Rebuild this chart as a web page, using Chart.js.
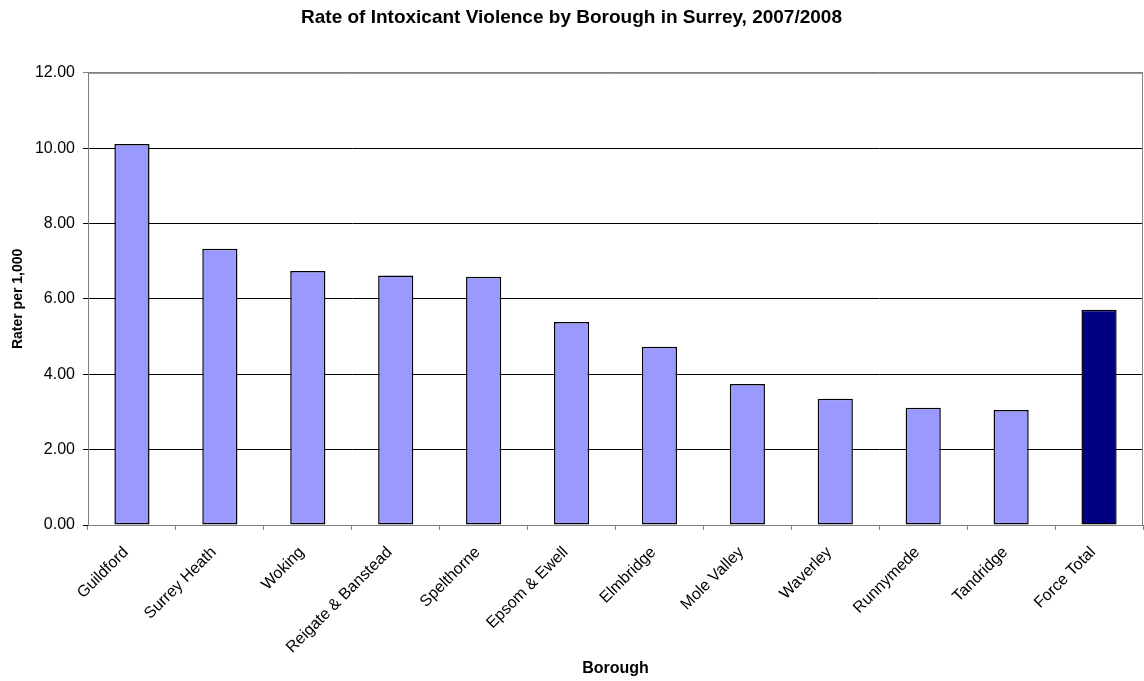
<!DOCTYPE html>
<html>
<head>
<meta charset="utf-8">
<script src="https://cdn.jsdelivr.net/npm/chart.js@4/dist/chart.umd.min.js"></script>
<style>
  html, body { margin: 0; padding: 0; background: #fff; }
  #wrap { width: 1144px; height: 681px; }
</style>
</head>
<body>
<div id="wrap"><canvas id="rate_chart"></canvas></div>
<script>
const boroughs = ["Guildford", "Surrey Heath", "Woking", "Reigate & Banstead", "Spelthorne",
    "Epsom & Ewell", "Elmbridge", "Mole Valley", "Waverley", "Runnymede", "Tandridge", "Force Total"];
const rates = [10.11, 7.33, 6.74, 6.62, 6.59, 5.39, 4.73, 3.74, 3.35, 3.11, 3.05, 5.71];
const yTicks = [0, 2, 4, 6, 8, 10, 12];

const font = "'Liberation Sans', Arial, sans-serif";

// grey frame round the plot area, like the spreadsheet original
const plotFrame = {
    id: 'plotFrame',
    afterDraw(chart) {
        const a = chart.chartArea;
        const ctx = chart.ctx;
        ctx.save();
        ctx.strokeStyle = '#808080';
        ctx.lineWidth = 1;
        ctx.beginPath();
        ctx.moveTo(a.left, a.top + 0.5);
        ctx.lineTo(a.right - 0.5, a.top + 0.5);
        ctx.lineTo(a.right - 0.5, a.bottom);
        ctx.stroke();
        ctx.restore();
    }
};

new Chart(document.getElementById("rate_chart"), {
    type: 'bar',
    data: {
        labels: boroughs,
        datasets: [{
            label: "Rate per 1,000",
            data: rates,
            backgroundColor: boroughs.map(b => b === "Force Total" ? '#000080' : '#9999FF'),
            borderColor: '#000000',
            borderWidth: 1.5,
            borderSkipped: false,
            categoryPercentage: 1.0,
            barPercentage: 0.4
        }]
    },
    options: {
        responsive: true,
        maintainAspectRatio: false,
        animation: false,
        layout: { padding: { left: 0, right: 1, top: 0, bottom: 0 } },
        plugins: {
            legend: { display: false },
            tooltip: { enabled: false },
            title: {
                display: true,
                text: "Rate of Intoxicant Violence by Borough in Surrey, 2007/2008",
                color: '#000',
                font: { family: font, size: 19, weight: 'bold' },
                padding: { top: 6, bottom: 44 }
            }
        },
        scales: {
            x: {
                grid: {
                    drawOnChartArea: false,
                    color: '#808080',
                    tickLength: 5
                },
                border: { color: '#808080' },
                ticks: {
                    color: '#000',
                    font: { family: font, size: 16 },
                    minRotation: 45,
                    maxRotation: 45,
                    autoSkip: false,
                    padding: 13,
                    labelOffset: -6
                },
                title: {
                    display: true,
                    text: "Borough",
                    color: '#000',
                    font: { family: font, size: 16, weight: 'bold' },
                    padding: { top: 0, bottom: 3 }
                },
                afterFit(scale) { scale.height = 156; }
            },
            y: {
                min: 0,
                max: 12,
                afterBuildTicks(scale) { scale.ticks = yTicks.map(v => ({ value: v })); },
                grid: {
                    color: ctx => (ctx.tick && ctx.tick.value === 12) ? '#808080' : '#000000',
                    tickLength: 5
                },
                border: { color: '#808080' },
                ticks: {
                    color: '#000',
                    font: { family: font, size: 16 },
                    padding: 8,
                    callback: v => Number(v).toFixed(2)
                },
                title: {
                    display: true,
                    text: "Rater per 1,000",
                    color: '#000',
                    font: { family: font, size: 14, weight: 'bold' },
                    padding: { top: 10, bottom: 0 }
                },
                afterFit(scale) { scale.width = 88; }
            }
        }
    },
    plugins: [plotFrame]
});
</script>
</body>
</html>
